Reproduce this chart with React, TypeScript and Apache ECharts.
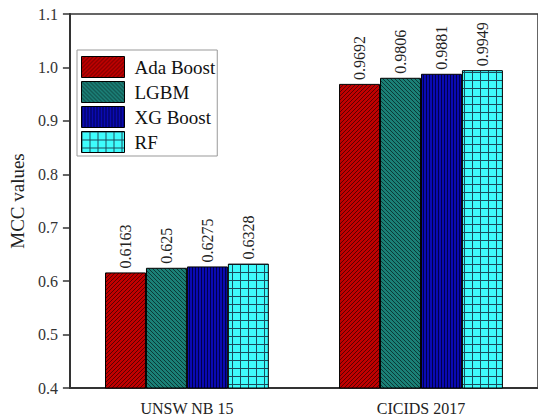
import React, { useEffect, useRef } from "react";
import * as echarts from "echarts";

const categories = ["UNSW NB 15", "CICIDS 2017"];
const seriesNames = ["Ada Boost", "LGBM", "XG Boost", "RF"];
const adaBoost = [0.6163, 0.9692];
const lgbm = [0.625, 0.9806];
const xgBoost = [0.6275, 0.9881];
const rf = [0.6328, 0.9949];
const yTicks = { min: 0.4, max: 1.1, interval: 0.1 };

const FONT = "'Liberation Serif', 'Times New Roman', serif";

function makePattern(kind: string): any {
  const c = document.createElement("canvas");
  let s = 4;
  if (kind === "rf") s = 8;
  if (kind === "xg") s = 3;
  c.width = s;
  c.height = s;
  const ctx = c.getContext("2d")!;
  if (kind === "ada") {
    ctx.fillStyle = "#c00000";
    ctx.fillRect(0, 0, s, s);
    ctx.strokeStyle = "#5a0000";
    ctx.lineWidth = 1;
    ctx.beginPath();
    for (let k = -1; k <= 1; k++) {
      ctx.moveTo(k * s, s);
      ctx.lineTo(k * s + s, 0);
    }
    ctx.stroke();
  } else if (kind === "lgbm") {
    ctx.fillStyle = "#1b8077";
    ctx.fillRect(0, 0, s, s);
    ctx.strokeStyle = "#0b3a36";
    ctx.lineWidth = 1;
    ctx.beginPath();
    for (let k = -1; k <= 1; k++) {
      ctx.moveTo(k * s, 0);
      ctx.lineTo(k * s + s, s);
    }
    ctx.stroke();
  } else if (kind === "xg") {
    ctx.fillStyle = "#0a0ab2";
    ctx.fillRect(0, 0, s, s);
    ctx.fillStyle = "#00004a";
    ctx.fillRect(0, 0, 1, s);
  } else {
    ctx.fillStyle = "#3ffcfc";
    ctx.fillRect(0, 0, s, s);
    ctx.fillStyle = "#1a4c5c";
    ctx.fillRect(0, 0, 1, s);
    ctx.fillRect(0, 0, s, 1);
  }
  return { image: c, repeat: "repeat" };
}

export default function App() {
  const ref = useRef<HTMLDivElement>(null);
  useEffect(() => {
    if (!ref.current) return;
    const chart = echarts.init(ref.current, null, { renderer: "svg" });
    const patterns = [makePattern("ada"), makePattern("lgbm"), makePattern("xg"), makePattern("rf")];
    const data = [adaBoost, lgbm, xgBoost, rf];
    chart.setOption({
      animation: false,
      backgroundColor: "#fff",
      grid: {
        left: 66,
        right: -2,
        top: 14,
        bottom: 30,
        show: true,
        borderColor: "#333",
        borderWidth: 1.5,
      },
      legend: {
        orient: "vertical",
        left: 77,
        top: 50,
        padding: [6, 2, 3, 4],
        itemWidth: 43,
        itemHeight: 21,
        itemGap: 3,
        borderColor: "#999",
        borderWidth: 1,
        icon: "rect",
        itemStyle: { borderColor: "#000", borderWidth: 1 },
        textStyle: { fontFamily: FONT, fontSize: 19, color: "#111", padding: [0, 0, 0, 5] },
        data: seriesNames,
      },
      xAxis: {
        type: "category",
        data: categories,
        axisLine: { lineStyle: { color: "#333", width: 2 } },
        axisTick: { alignWithLabel: true, length: 6, lineStyle: { color: "#333", width: 1.5 } },
        axisLabel: { fontFamily: FONT, fontSize: 16, color: "#222", margin: 12 },
      },
      yAxis: {
        type: "value",
        min: yTicks.min,
        max: yTicks.max,
        interval: yTicks.interval,
        name: "MCC values",
        nameLocation: "middle",
        nameGap: 35,
        nameTextStyle: { fontFamily: FONT, fontSize: 19, color: "#222" },
        splitLine: { show: false },
        axisLine: { show: true, lineStyle: { color: "#333", width: 2 } },
        axisTick: { show: true, length: 7, lineStyle: { color: "#333", width: 1.5 } },
        axisLabel: {
          fontFamily: FONT,
          fontSize: 16,
          color: "#333",
          margin: 12,
          formatter: (v: number) => v.toFixed(1),
        },
      },
      series: seriesNames.map((name, i) => ({
        name,
        type: "bar",
        data: data[i],
        barGap: "0%",
        barCategoryGap: "30%",
        itemStyle: { color: patterns[i], borderColor: "#000", borderWidth: 1 },
        label: {
          show: true,
          position: "top",
          rotate: 90,
          align: "left",
          verticalAlign: "middle",
          distance: 2,
          offset: [2, 0],
          fontFamily: FONT,
          fontSize: 16,
          color: "#222",
          formatter: (p: any) => String(p.value),
        },
      })),
    });
    return () => chart.dispose();
  }, []);
  return (
    <div
      ref={ref}
      style={{ position: "fixed", left: 0, top: 0, width: 538, height: 418 }}
    />
  );
}
